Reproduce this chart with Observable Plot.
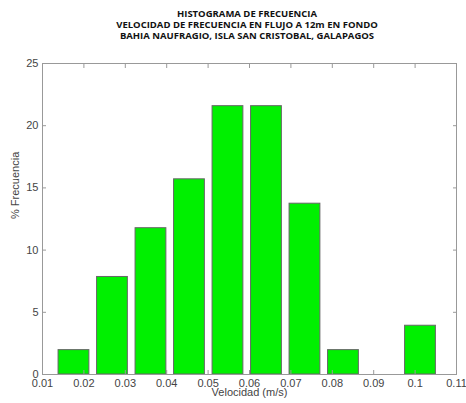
<!DOCTYPE html>
<html><head><meta charset="utf-8">
<script src="https://cdn.jsdelivr.net/npm/d3@7"></script>
<script src="https://cdn.jsdelivr.net/npm/@observablehq/plot@0.6"></script>
<style>
body{margin:0;background:#fff;}
#title{width:466px;height:48px;box-sizing:border-box;padding-top:8px;padding-left:28px;text-align:center;font-family:"Open Sans",sans-serif;font-weight:bold;font-size:9.5px;line-height:11.2px;color:#111;}
</style></head>
<body>
<div id="title">HISTOGRAMA DE FRECUENCIA<br>VELOCIDAD DE FRECUENCIA EN FLUJO A 12m EN FONDO<br>BAHIA NAUFRAGIO, ISLA SAN CRISTOBAL, GALAPAGOS</div>
<div id="chart"></div>
<script>
const binCenters = [0.0176, 0.0269, 0.0362, 0.0455, 0.0548, 0.0641, 0.0734, 0.0827, 0.0920, 0.1013];
const frequency = [1.96, 7.84, 11.76, 15.69, 21.57, 21.57, 13.73, 1.96, 0, 3.92];
const xTicks = [0.01, 0.02, 0.03, 0.04, 0.05, 0.06, 0.07, 0.08, 0.09, 0.1, 0.11];
const yTicks = [0, 5, 10, 15, 20, 25];
const xLabel = "Velocidad (m/s)";
const yLabel = "% Frecuencia";

const binWidth = binCenters[1] - binCenters[0];
const data = binCenters.map((c, i) => ({x1: c - 0.4 * binWidth, x2: c + 0.4 * binWidth, y: frequency[i]})).filter(d => d.y > 0);

const chart = Plot.plot({
  width: 466, height: 358,
  marginLeft: 42, marginRight: 10, marginTop: 15, marginBottom: 32,
  style: {fontFamily: "'Liberation Sans', Arial, sans-serif", fontSize: "11px", color: "#444", background: "#fff"},
  x: {domain: [0.01, 0.11]},
  y: {domain: [0, 25]},
  marks: [
    Plot.rectY(data, {x1: "x1", x2: "x2", y: "y", fill: "#00f000", stroke: "#666", strokeWidth: 1}),
    Plot.frame({stroke: "#999"}),
    Plot.axisX(xTicks, {anchor: "bottom", tickSize: 0, tickPadding: 4.5, tickFormat: d => String(d), label: null, fill: "#444"}),
    Plot.axisX(xTicks, {anchor: "bottom", tickSize: -4, tickFormat: () => "", label: null, stroke: "#999"}),
    Plot.axisX(xTicks, {anchor: "top", tickSize: -4, tickFormat: () => "", label: null, stroke: "#999"}),
    Plot.axisY(yTicks, {anchor: "left", tickSize: 0, tickPadding: 4, label: null, fill: "#444"}),
    Plot.axisY(yTicks, {anchor: "left", tickSize: -4, tickFormat: () => "", label: null, stroke: "#999"}),
    Plot.axisY(yTicks, {anchor: "right", tickSize: -4, tickFormat: () => "", label: null, stroke: "#999"}),
    Plot.text([xLabel], {frameAnchor: "bottom", dy: 21.5, text: d => d, fontSize: 11, fill: "#444"}),
    Plot.text([yLabel], {frameAnchor: "left", dx: -27, rotate: -90, text: d => d, fontSize: 11, fill: "#444"})
  ]
});
document.getElementById("chart").appendChild(chart);
</script>
</body></html>
